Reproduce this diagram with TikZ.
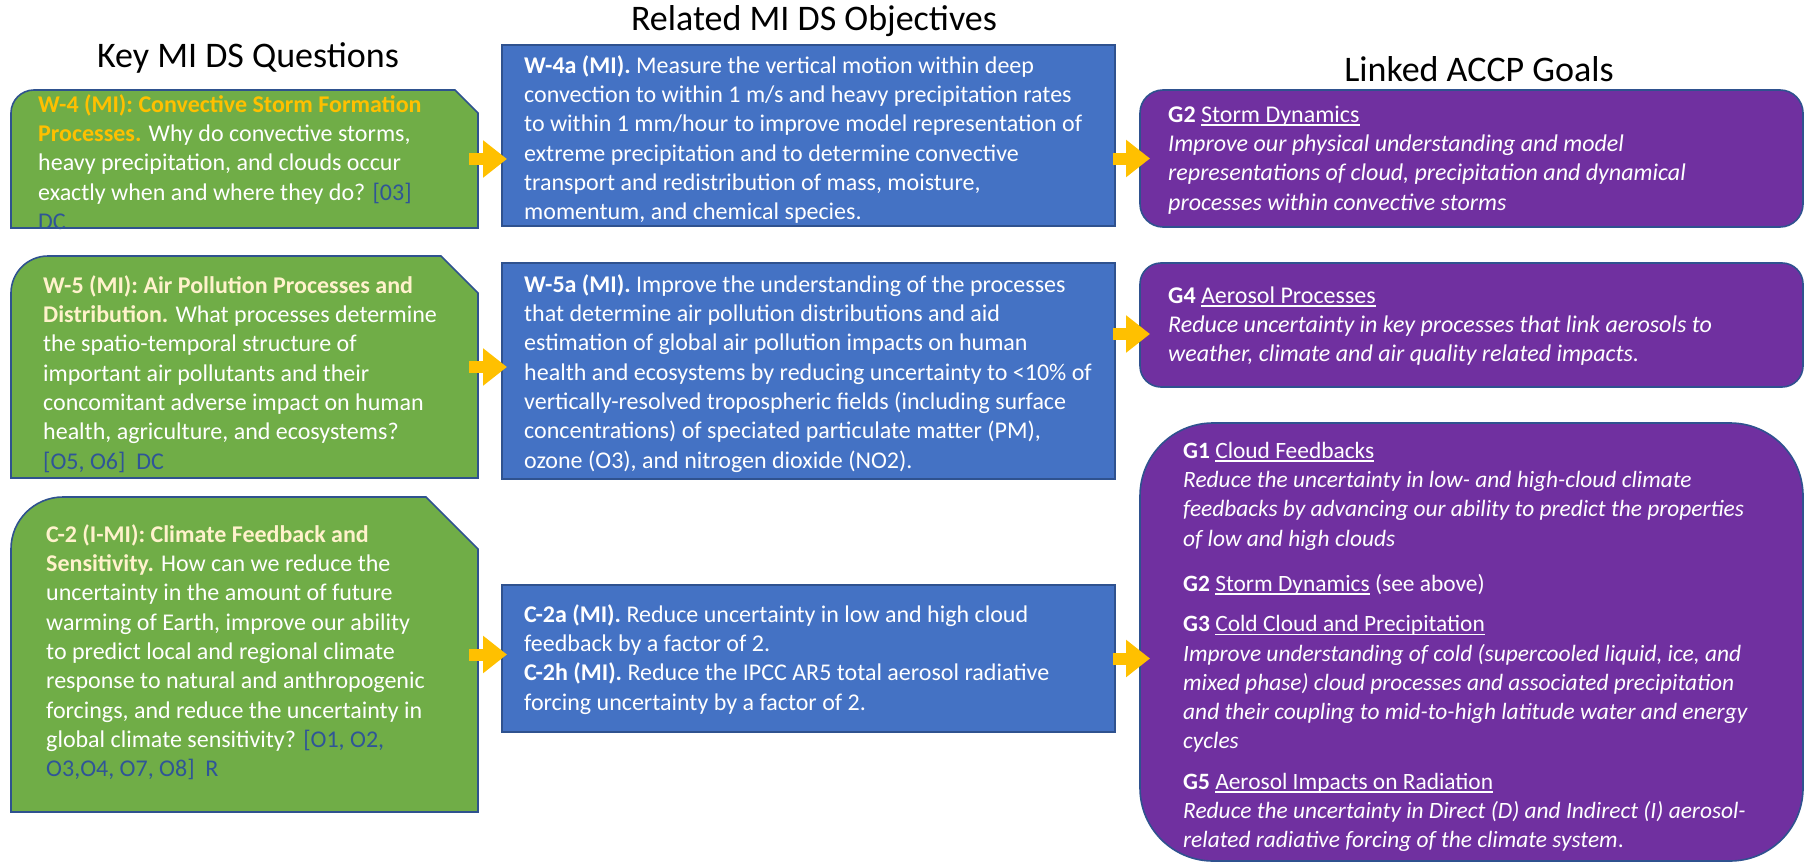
\documentclass[tikz,border=0pt]{standalone}
\usepackage{fontspec}
\setmainfont{Carlito}
\usetikzlibrary{arrows.meta,calc}
\definecolor{gfill}{HTML}{70AD47}
\definecolor{bfill}{HTML}{4472C4}
\definecolor{pfill}{HTML}{7030A0}
\definecolor{edge}{HTML}{2F528F}
\definecolor{arrowc}{HTML}{FFC000}
\definecolor{hlorange}{HTML}{FFC000}
\definecolor{hlpale}{HTML}{FFF2CC}
\definecolor{refblue}{HTML}{2F5597}
\newsavebox{\ulbox}
\newcommand{\myul}[1]{\sbox{\ulbox}{#1}\rlap{\rule[-3.5pt]{\wd\ulbox}{1.5pt}}\usebox{\ulbox}}
\newcommand{\mytopstrut}{\rule{0pt}{20pt}}
\begin{document}
\begin{tikzpicture}[x=1pt,y=-1pt,
  boxname/.style={inner sep=0pt, outer sep=0pt, draw=none},
  gbox/.style={fill=gfill, draw=edge, line width=1.6pt},
  bbox/.style={boxname, fill=bfill, draw=edge, line width=1.6pt},
  pbox/.style={boxname, fill=pfill, draw=edge, line width=1.6pt},
  txt/.style={inner sep=0pt, anchor=north west, align=left, text=white,
              font=\fontsize{24}{29.3}\selectfont},
  title/.style={inner sep=0pt, font=\fontsize{36}{40}\selectfont, text=black},
  blockarrow/.style={draw=arrowc, line width=12pt,
              -{Triangle[length=24pt 0 0, width=36pt 0 0]}}]
\useasboundingbox (0,0) rectangle (1806,864);

% titles
\node[title] (t1) at (248,58) {Key MI DS Questions};
\node[title] (t2) at (814,21) {Related MI DS Objectives};
\node[title] (t3) at (1479,69) {Linked ACCP Goals};

% green boxes (named frames)
\node[boxname, minimum width=467pt, minimum height=138pt] (g1) at (244.5,159) {};
\node[boxname, minimum width=467pt, minimum height=222pt] (g2) at (244.5,367) {};
\node[boxname, minimum width=467pt, minimum height=315pt] (g3) at (244.5,654.5) {};
\draw[gbox] (g1.south west) -- ([yshift=-23pt]g1.north west) arc[start angle=180,end angle=90,radius=23pt]
  -- ([xshift=-23pt]g1.north east) -- ([yshift=-23pt]g1.north east) -- (g1.south east) -- cycle;
\draw[gbox] (g2.south west) -- ([yshift=-37pt]g2.north west) arc[start angle=180,end angle=90,radius=37pt]
  -- ([xshift=-37pt]g2.north east) -- ([yshift=-37pt]g2.north east) -- (g2.south east) -- cycle;
\draw[gbox] (g3.south west) -- ([yshift=-52pt]g3.north west) arc[start angle=180,end angle=90,radius=52pt]
  -- ([xshift=-52pt]g3.north east) -- ([yshift=-52pt]g3.north east) -- (g3.south east) -- cycle;

% blue boxes
\node[bbox, minimum width=613pt, minimum height=181pt] (b1) at (808.5,135.5) {};
\node[bbox, minimum width=613pt, minimum height=216pt] (b2) at (808.5,371) {};
\node[bbox, minimum width=613pt, minimum height=147pt] (b3) at (808.5,658.5) {};

% purple boxes
\node[pbox, rounded corners=23pt, minimum width=663pt, minimum height=137pt] (p1) at (1471.5,158.5) {};
\node[pbox, rounded corners=21pt, minimum width=663pt, minimum height=124pt] (p2) at (1471.5,325) {};
\node[pbox, rounded corners=73pt, minimum width=663pt, minimum height=438pt] (p3) at (1471.5,642) {};

% green texts
\node[txt] (g1t) at (38,92) {\mytopstrut\textbf{\color{hlorange}W-4 (MI): Convective Storm Formation}\\
  \textbf{\color{hlorange}Processes.} Why do convective storms,\\
  heavy precipitation, and clouds occur\\
  exactly when and where they do? {\color{refblue}[03]}\\
  {\color{refblue}DC}};
\node[txt] (g2t) at (43,273) {\mytopstrut\textbf{\color{hlpale}W-5 (MI): Air Pollution Processes and}\\
  \textbf{\color{hlpale}Distribution.} What processes determine\\
  the spatio-temporal structure of\\
  important air pollutants and their\\
  concomitant adverse impact on human\\
  health, agriculture, and ecosystems?\\
  {\color{refblue}[O5, O6]\ \ DC}};
\node[txt] (g3t) at (46,522) {\mytopstrut\textbf{\color{hlpale}C-2 (I-MI): Climate Feedback and}\\
  \textbf{\color{hlpale}Sensitivity.} How can we reduce the\\
  uncertainty in the amount of future\\
  warming of Earth, improve our ability\\
  to predict local and regional climate\\
  response to natural and anthropogenic\\
  forcings, and reduce the uncertainty in\\
  global climate sensitivity? {\color{refblue}[O1, O2,}\\
  {\color{refblue}O3,O4, O7, O8]\ \ R}};

% blue texts
\node[txt] (b1t) at (524,53) {\mytopstrut\textbf{W-4a (MI).} Measure the vertical motion within deep\\
  convection to within 1 m/s and heavy precipitation rates\\
  to within 1 mm/hour to improve model representation of\\
  extreme precipitation and to determine convective\\
  transport and redistribution of mass, moisture,\\
  momentum, and chemical species.};
\node[txt] (b2t) at (524,272) {\mytopstrut\textbf{W-5a (MI).} Improve the understanding of the processes\\
  that determine air pollution distributions and aid\\
  estimation of global air pollution impacts on human\\
  health and ecosystems by reducing uncertainty to <10\% of\\
  vertically-resolved tropospheric fields (including surface\\
  concentrations) of speciated particulate matter (PM),\\
  ozone (O3), and nitrogen dioxide (NO2).};
\node[txt] (b3t) at (524,602) {\mytopstrut\textbf{C-2a (MI).} Reduce uncertainty in low and high cloud\\
  feedback by a factor of 2.\\
  \textbf{C-2h (MI).} Reduce the IPCC AR5 total aerosol radiative\\
  forcing uncertainty by a factor of 2.};

% purple texts
\node[txt] (p1t) at (1168,102) {\mytopstrut\textbf{G2} \myul{Storm Dynamics}\\
  \textit{Improve our physical understanding and model}\\
  \textit{representations of cloud, precipitation and dynamical}\\
  \textit{processes within convective storms}};
\node[txt] (p2t) at (1168,283) {\mytopstrut\textbf{G4} \myul{Aerosol Processes}\\
  \textit{Reduce uncertainty in key processes that link aerosols to}\\
  \textit{weather, climate and air quality related impacts.}};
\node[txt, font=\fontsize{23.4}{29.3}\selectfont] (p3t) at (1183,438) {\mytopstrut\textbf{G1} \myul{Cloud Feedbacks}\\
  \textit{Reduce the uncertainty in low- and high-cloud climate}\\
  \textit{feedbacks by advancing our ability to predict the properties}\\
  \textit{of low and high clouds}\\[16pt]
  \textbf{G2} \myul{Storm Dynamics} (see above)\\[11pt]
  \textbf{G3} \myul{Cold Cloud and Precipitation}\\
  \textit{Improve understanding of cold (supercooled liquid, ice, and}\\
  \textit{mixed phase) cloud processes and associated precipitation}\\
  \textit{and their coupling to mid-to-high latitude water and energy}\\
  \textit{cycles}\\[11pt]
  \textbf{G5} \myul{Aerosol Impacts on Radiation}\\
  \textit{Reduce the uncertainty in Direct (D) and Indirect (I) aerosol-}\\
  \textit{related radiative forcing of the climate system}.};

% arrows
\coordinate (r2) at (0,334);
\draw[blockarrow] ([xshift=-9pt]g1.east) -- ([xshift=5pt]g1.east -| b1.west);
\draw[blockarrow] ([xshift=-9pt]g2.east) -- ([xshift=5pt]g2.east -| b2.west);
\draw[blockarrow] ([xshift=-9pt]g3.east) -- ([xshift=5pt]g3.east -| b3.west);
\draw[blockarrow] ([xshift=-2pt]p1.west -| b1.east) -- ([xshift=10pt]p1.west);
\draw[blockarrow] ([xshift=-2pt]b2.east |- r2) -- ([xshift=10pt]p2.west |- r2);
\draw[blockarrow] ([xshift=-2pt]b3.east) -- ([xshift=10pt]b3.east -| p3.west);
\end{tikzpicture}
\end{document}
